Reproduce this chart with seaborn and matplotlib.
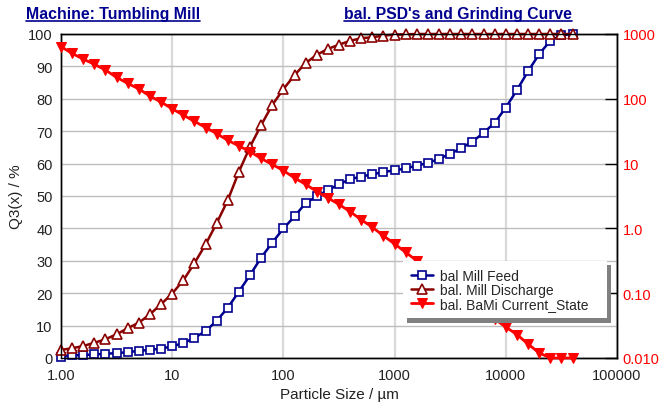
import pandas as pd
import matplotlib.pyplot as plt
import matplotlib.lines as mlines
import seaborn as sns

# Particle size classes (µm) and the three distributions
size_um = [1.00, 1.26, 1.58, 2.00, 2.51, 3.16, 3.98, 5.01, 6.31, 7.94,
           10.0, 12.6, 15.8, 20.0, 25.1, 31.6, 39.8, 50.1, 63.1, 79.4,
           100, 126, 158, 200, 251, 316, 398, 501, 631, 794,
           1000, 1259, 1585, 1995, 2512, 3162, 3981, 5012, 6310, 7943,
           10000, 12589, 15849, 19953, 25119, 31623, 39811]

feed_q3 = [0.4, 0.8, 0.9, 1.1, 1.3, 1.5, 1.8, 2.2, 2.5, 2.9,
           3.6, 4.6, 6.2, 8.3, 11.5, 15.5, 20.5, 25.6, 31.0, 35.6,
           40.0, 43.7, 47.8, 49.9, 51.8, 53.6, 55.2, 56.0, 56.7, 57.4,
           57.9, 58.5, 59.4, 60.2, 61.5, 63.0, 64.8, 66.8, 69.5, 72.6,
           77.3, 82.7, 88.5, 93.8, 97.9, 99.6, 100.0]

discharge_q3 = [2.5, 3.0, 3.7, 4.7, 5.8, 7.3, 9.2, 10.9, 13.5, 16.6,
                19.9, 24.0, 29.2, 35.1, 41.6, 48.7, 57.5, 65.2, 71.9, 78.1,
                83.0, 87.3, 91.0, 93.6, 95.4, 96.7, 97.9, 98.7, 99.0, 99.5,
                99.8, 99.9, 100, 100, 100, 100, 100, 100, 100, 100,
                100, 100, 100, 100, 100, 100, 100]

current_state = [638, 501, 411, 340, 278, 214, 173, 142, 110, 89,
                 70, 56, 45, 36, 29, 22.9, 18.7, 15.3, 12.0, 9.7,
                 7.8, 6.0, 4.8, 3.7, 2.95, 2.35, 1.81, 1.36, 1.04, 0.77,
                 0.575, 0.427, 0.316, 0.234, 0.174, 0.129, 0.095, 0.071, 0.052, 0.040,
                 0.030, 0.023, 0.0164, 0.012, 0.010, 0.010, 0.010]

x_ticks = [1, 10, 100, 1000, 10000, 100000]
x_tick_labels = ['1.00', '10', '100', '1000', '10000', '100000']
right_ticks = [0.01, 0.1, 1, 10, 100, 1000]
right_tick_labels = ['0.010', '0.10', '1.0', '10', '100', '1000']

df = pd.DataFrame({'size': size_um, 'feed': feed_q3,
                   'discharge': discharge_q3, 'state': current_state})

sns.set_style("ticks")
plt.rcParams['font.family'] = ['Liberation Sans', 'DejaVu Sans']

NAVY = '#000090'
DARKRED = '#8B0000'
RED = '#FF0000'

fig = plt.figure(figsize=(6.59, 4.06), dpi=100)
ax = fig.add_axes([0.0926, 0.1158, 0.8437, 0.798])
ax2 = ax.twinx()

sns.lineplot(data=df, x='size', y='feed', ax=ax, color=NAVY, linewidth=1.8,
             marker='s', markersize=6, markerfacecolor='white',
             markeredgecolor=NAVY, markeredgewidth=1.2, clip_on=False,
             label='bal Mill Feed', legend=False, zorder=3)
sns.lineplot(data=df, x='size', y='discharge', ax=ax, color=DARKRED, linewidth=1.8,
             marker='^', markersize=6.5, markerfacecolor='white',
             markeredgecolor=DARKRED, markeredgewidth=1.2, clip_on=False,
             label='bal. Mill Discharge', legend=False, zorder=3)
sns.lineplot(data=df, x='size', y='state', ax=ax2, color=RED, linewidth=2,
             marker='v', markersize=7, markeredgecolor=RED, clip_on=False,
             label='bal. BaMi Current_State', legend=False, zorder=3)

ax.set_xscale('log')
ax.set_xlim(1, 100000)
ax.set_ylim(0, 100)
ax.set_yticks(range(0, 101, 10))
ax.set_xticks(x_ticks)
ax.set_xticklabels(x_tick_labels)
ax.tick_params(axis='y', length=0, pad=6, labelsize=10.5, labelcolor='#222222')
ax.tick_params(axis='x', which='major', direction='in', length=0, pad=7,
               labelsize=10.5, labelcolor='#222222', top=False)
ax.tick_params(axis='x', which='minor', direction='in', length=7, width=1,
               top=True, bottom=True, color='black')
ax.grid(axis='y', color='#bdbdbd', linewidth=1)
ax.grid(axis='x', which='major', color='#d9d9d9', linewidth=1.6)
ax.set_xlabel('Particle Size / µm', fontsize=11, color='#222222', labelpad=4)
ax.set_ylabel('Q3(x) / %', fontsize=11, color='#222222', labelpad=4)

ax2.set_yscale('log')
ax2.set_ylim(0.01, 1000)
ax2.set_yticks(right_ticks)
ax2.set_yticklabels(right_tick_labels)
ax2.minorticks_off()
ax2.tick_params(axis='y', direction='in', length=9, width=1, pad=4,
                labelsize=10.5, labelcolor=RED, color='black')
ax2.set_ylabel('')
ax2.set_xlim(1, 100000)

for a in (ax, ax2):
    for sp in a.spines.values():
        sp.set_color('black')
        sp.set_linewidth(1)

handles = ax.get_lines()[:2] + ax2.get_lines()[:1]
leg = ax2.legend(handles=handles,
                 labels=['bal Mill Feed', 'bal. Mill Discharge', 'bal. BaMi Current_State'],
                 loc='upper left', bbox_to_anchor=(0.615, 0.0, 0.367, 0.299),
                 mode='expand', frameon=True, fancybox=False,
                 shadow={'color': '0.5', 'alpha': 1, 'ox': 3, 'oy': -3},
                 fontsize=10, handlelength=1.6, handletextpad=0.5,
                 labelspacing=0.0, borderpad=0.55, borderaxespad=0)
leg.get_frame().set_edgecolor('white')
leg.get_frame().set_linewidth(0)
leg.set_zorder(10)

# titles, underlined
t1 = fig.text(26 / 659, 1 - 14 / 406, 'Machine: Tumbling Mill', fontsize=11.4,
              fontweight='bold', color=NAVY, ha='left', va='center')
t2 = fig.text(572 / 659, 1 - 14 / 406, "bal. PSD's and Grinding Curve", fontsize=11.3,
              fontweight='bold', color=NAVY, ha='right', va='center')
fig.canvas.draw()
renderer = fig.canvas.get_renderer()
for t in (t1, t2):
    bb = t.get_window_extent(renderer)
    y = (bb.y0 - 0.5) / fig.bbox.height
    fig.add_artist(mlines.Line2D([bb.x0 / fig.bbox.width, bb.x1 / fig.bbox.width],
                                 [y, y], color=NAVY, linewidth=1.2,
                                 transform=fig.transFigure))

plt.savefig('out.png', dpi=100)
